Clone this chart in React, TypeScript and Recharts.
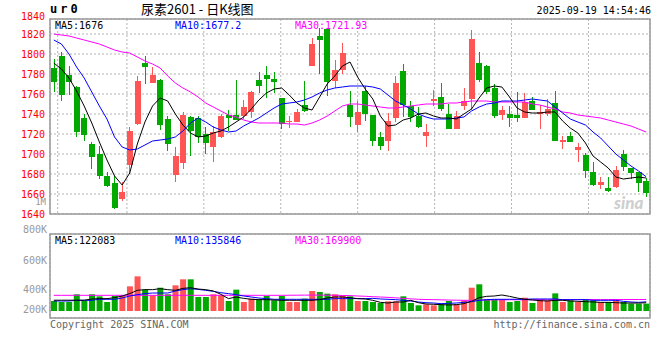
import React from 'react';
import { Bar, CartesianGrid, Cell, ComposedChart, Line, ReferenceArea, XAxis, YAxis } from 'recharts';

// trading days shown
const dates = [
  '06-03', '06-04', '06-05', '06-06', '06-09', '06-10', '06-11', '06-12', '06-13', '06-16',
  '06-17', '06-18', '06-19', '06-20', '06-23', '06-24', '06-25', '06-26', '06-27', '06-30',
  '07-01', '07-02', '07-03', '07-04', '07-07', '07-08', '07-09', '07-10', '07-11', '07-14',
  '07-15', '07-16', '07-17', '07-18', '07-21', '07-22', '07-23', '07-24', '07-25', '07-28',
  '07-29', '07-30', '07-31', '08-01', '08-04', '08-05', '08-06', '08-07', '08-08', '08-11',
  '08-12', '08-13', '08-14', '08-15', '08-18', '08-19', '08-20', '08-21', '08-22', '08-25',
  '08-26', '08-27', '08-28', '08-29', '09-01', '09-02', '09-03', '09-04', '09-05', '09-08',
  '09-09', '09-10', '09-11', '09-12', '09-15', '09-16', '09-17', '09-18', '09-19',
];

const opens = [
  1786, 1798, 1779, 1767, 1736, 1710, 1700, 1678, 1671, 1655,
  1689, 1730, 1791, 1771, 1774, 1735, 1679, 1691, 1737, 1736,
  1720, 1707, 1717, 1739, 1739, 1738, 1742, 1774, 1779, 1775,
  1756, 1732, 1732, 1749, 1788, 1818, 1825, 1773, 1784, 1749,
  1729, 1763, 1739, 1717, 1713, 1736, 1783, 1748, 1738, 1718,
  1753, 1757, 1740, 1725, 1748, 1755, 1791, 1788, 1766, 1739,
  1740, 1739, 1736, 1753, 1740, 1740, 1751, 1712, 1718, 1704,
  1699, 1682, 1669, 1666, 1667, 1700, 1686, 1682, 1673,
];
const highs = [
  1795, 1802, 1788, 1768, 1740, 1712, 1708, 1682, 1678, 1672,
  1727, 1778, 1798, 1787, 1775, 1738, 1707, 1742, 1738, 1738,
  1727, 1728, 1740, 1744, 1774, 1754, 1763, 1782, 1788, 1782,
  1756, 1738, 1745, 1773, 1816, 1826, 1825, 1794, 1811, 1763,
  1753, 1768, 1739, 1722, 1741, 1778, 1790, 1753, 1747, 1730,
  1764, 1771, 1750, 1743, 1766, 1824, 1802, 1789, 1770, 1748,
  1748, 1762, 1761, 1757, 1749, 1755, 1763, 1718, 1722, 1711,
  1701, 1692, 1677, 1677, 1688, 1704, 1686, 1682, 1676,
];
const lows = [
  1762, 1753, 1759, 1717, 1713, 1685, 1675, 1667, 1645, 1653,
  1680, 1729, 1770, 1771, 1724, 1703, 1672, 1685, 1698, 1711,
  1700, 1692, 1716, 1723, 1734, 1735, 1736, 1761, 1756, 1761,
  1725, 1726, 1732, 1742, 1788, 1780, 1758, 1766, 1780, 1727,
  1722, 1733, 1708, 1704, 1703, 1732, 1737, 1732, 1726, 1707,
  1748, 1743, 1725, 1725, 1744, 1744, 1772, 1760, 1736, 1734,
  1727, 1732, 1736, 1744, 1725, 1738, 1713, 1705, 1712, 1692,
  1676, 1668, 1665, 1662, 1666, 1683, 1675, 1662, 1657,
];
const closes = [
  1772, 1759, 1772, 1722, 1719, 1697, 1678, 1668, 1646, 1662,
  1723, 1773, 1787, 1779, 1729, 1710, 1698, 1739, 1723, 1717,
  1711, 1722, 1738, 1736, 1734, 1747, 1762, 1768, 1775, 1772,
  1730, 1733, 1742, 1743, 1810, 1814, 1772, 1784, 1801, 1737,
  1742, 1740, 1713, 1708, 1733, 1771, 1749, 1737, 1727, 1722,
  1755, 1745, 1725, 1738, 1753, 1815, 1774, 1762, 1738, 1744,
  1736, 1736, 1752, 1744, 1742, 1745, 1713, 1714, 1712, 1707,
  1683, 1669, 1672, 1663, 1684, 1687, 1681, 1671, 1661,
];

const ma5 = [
  1791, 1785, 1776, 1763, 1748, 1731, 1712, 1694, 1678, 1669,
  1681, 1710, 1732, 1748, 1756, 1753, 1740, 1729, 1721, 1717,
  1718, 1721, 1723, 1727, 1732, 1737, 1745, 1754, 1761, 1765,
  1766, 1759, 1751, 1746, 1744, 1757, 1770, 1778, 1788, 1792,
  1777, 1765, 1755, 1738, 1728, 1729, 1734, 1736, 1740, 1741,
  1738, 1736, 1736, 1735, 1740, 1745, 1756, 1766, 1768, 1767,
  1757, 1746, 1742, 1741, 1741, 1742, 1742, 1733, 1726, 1721,
  1711, 1698, 1692, 1686, 1677, 1675, 1676, 1677, 1676,
];
const ma10 = [
  1814, 1810, 1800, 1787, 1776, 1762, 1748, 1735, 1717, 1707,
  1704, 1705, 1709, 1713, 1714, 1715, 1717, 1723, 1731, 1736,
  1732, 1727, 1724, 1722, 1723, 1728, 1732, 1736, 1741, 1746,
  1750, 1751, 1752, 1754, 1757, 1761, 1764, 1766, 1767, 1768,
  1768, 1768, 1767, 1765, 1759, 1753, 1749, 1745, 1740, 1737,
  1735, 1735, 1735, 1736, 1737, 1743, 1747, 1750, 1751, 1753,
  1753, 1753, 1754, 1755, 1754, 1753, 1747, 1741, 1735, 1732,
  1729, 1722, 1716, 1708, 1700, 1694, 1688, 1683, 1677.2,
];
const ma30 = [
  1820, 1819, 1818, 1816, 1814, 1812, 1810, 1807, 1804, 1802,
  1801, 1797, 1793, 1790, 1786, 1778, 1771, 1766, 1762, 1757,
  1751, 1747, 1743, 1739, 1737, 1734, 1732, 1731, 1731, 1731,
  1731, 1730, 1730, 1729, 1731, 1734, 1738, 1743, 1748, 1750,
  1750, 1749, 1748, 1747, 1746, 1746, 1747, 1748, 1749, 1750,
  1750, 1750, 1751, 1751, 1752, 1753, 1753, 1753, 1752, 1752,
  1752, 1752, 1752, 1750, 1749, 1747, 1745, 1742, 1741, 1739,
  1738, 1737, 1736, 1734, 1732, 1730, 1728, 1725, 1721.93,
];

// volume, in thousands
const volumes = [
  148, 133, 133, 247, 148, 247, 217, 133, 222, 222,
  365, 513, 316, 232, 345, 247, 380, 469, 469, 207,
  207, 247, 232, 148, 316, 133, 183, 173, 222, 158,
  222, 133, 133, 183, 296, 281, 257, 247, 232, 217,
  148, 148, 133, 118, 143, 143, 217, 118, 84, 99,
  84, 99, 148, 99, 158, 345, 395, 173, 173, 173,
  133, 148, 197, 118, 173, 158, 261, 133, 158, 133,
  173, 158, 133, 133, 158, 133, 109, 109, 109,
];
const volMa5 = [
  160, 160, 160, 160, 160, 178, 183, 183, 197, 222,
  257, 306, 316, 316, 330, 316, 306, 335, 345, 325,
  316, 296, 247, 183, 207, 187, 173, 168, 168, 163,
  158, 158, 158, 158, 158, 168, 192, 207, 207, 197,
  183, 178, 158, 128, 118, 133, 133, 158, 123, 104,
  99, 94, 89, 94, 109, 143, 197, 217, 222, 237,
  217, 192, 173, 163, 153, 148, 158, 158, 148, 143,
  138, 133, 128, 128, 123, 118, 118, 118, 122.083,
];
const volMa10 = [
  148, 148, 148, 158, 158, 158, 173, 173, 173, 192,
  222, 242, 257, 266, 266, 266, 296, 316, 330, 320,
  306, 291, 271, 257, 242, 222, 207, 192, 183, 173,
  173, 173, 173, 173, 173, 173, 173, 183, 183, 183,
  183, 183, 187, 178, 173, 168, 158, 148, 133, 123,
  118, 109, 114, 118, 128, 138, 158, 168, 173, 173,
  173, 173, 173, 178, 178, 178, 178, 168, 168, 168,
  168, 158, 158, 158, 158, 143, 133, 128, 135.846,
];
const volMa30 = [
  232, 232, 232, 232, 232, 232, 232, 232, 232, 232,
  232, 232, 232, 232, 232, 232, 232, 232, 232, 232,
  232, 232, 232, 232, 232, 232, 232, 232, 232, 232,
  232, 233, 234, 235, 235, 235, 234, 233, 230, 228,
  222, 218, 212, 207, 202, 195, 187, 180, 173, 170,
  168, 165, 162, 160, 158, 158, 160, 163, 165, 165,
  166, 166, 166, 167, 167, 167, 168, 168, 168, 168,
  169, 169, 169, 169, 170, 170, 170, 170, 169.9,
];

const priceTicks = [1640, 1660, 1680, 1700, 1720, 1740, 1760, 1780, 1800, 1820];
const dateTicks = ['06-03', '06-16', '06-30', '07-14', '07-28', '08-11', '08-25', '09-08'];
const volLabels = ['800K', '600K', '400K', '200K'];

const MONO = '"DejaVu Sans Mono", monospace';
const UP = '#ff5555';
const DOWN = '#00a800';
const FRAME = '#999999';
const GRID = '#b4b4b4';
const BLUE_TXT = '#1a80d4';

const n = dates.length;
const tickPos = dateTicks.map((t) => dates.indexOf(t) + 1);

const rows = dates.map((d, i) => ({
  d,
  open: opens[i],
  high: highs[i],
  low: lows[i],
  close: closes[i],
  range: [lows[i], highs[i]],
  ma5: ma5[i],
  ma10: ma10[i],
  ma30: ma30[i],
  vol: volumes[i] * 1000,
  vma5: volMa5[i] * 1000,
  vma10: volMa10[i] * 1000,
  vma30: volMa30[i] * 1000,
}));

const PRICE_DOMAIN = [1640, 1835];
// 0 sits a few px above the bottom of the volume box
const VOL_DOMAIN = [-103600, 1139600];
const volGrid = [1, 2, 3].map((k) => VOL_DOMAIN[0] + ((VOL_DOMAIN[1] - VOL_DOMAIN[0]) * k) / 4);

function Candle(props: any) {
  const { x, y, width, height, payload } = props;
  if (!payload || height == null) return null;
  const { open, close, high, low } = payload;
  const k = height / (high - low);
  const py = (v: number) => y + (high - v) * k;
  const color = close >= open ? UP : DOWN;
  const cx = Math.floor(x + width / 2) + 0.5;
  const top = Math.round(py(Math.max(open, close)));
  const bot = Math.round(py(Math.min(open, close)));
  return (
    <g>
      <line x1={cx} x2={cx} y1={y} y2={y + height} stroke={color} strokeWidth={1} />
      <rect x={Math.round(x)} y={top} width={Math.round(width)} height={Math.max(1, bot - top)} fill={color} />
    </g>
  );
}

// date label drawn at the axis tick position, baseline set directly
function DateTick(props: any) {
  const { x, y, payload } = props;
  return (
    <text x={x} y={y + 8} textAnchor="middle" fill={BLUE_TXT} fontSize={10} fontFamily={MONO}>
      {dates[payload.value - 1]}
    </text>
  );
}

const txt = (extra: React.CSSProperties): React.CSSProperties => ({
  position: 'absolute',
  fontFamily: MONO,
  fontSize: 10,
  lineHeight: '10px',
  whiteSpace: 'nowrap',
  ...extra,
});

export default function App() {
  return (
    <div style={{ position: 'relative', width: 660, height: 360, background: '#fff', overflow: 'hidden' }}>
      <style>{'body{margin:0}'}</style>

      <div style={{ position: 'absolute', left: 0, top: 0 }}>
        <ComposedChart width={660} height={230} data={rows} margin={{ top: 19, right: 10, bottom: 0, left: 0 }}>
          <XAxis dataKey="d" hide />
          <XAxis
            xAxisId="t"
            type="number"
            domain={[0, n]}
            ticks={tickPos}
            interval={0}
            axisLine={false}
            tickLine={false}
            tickSize={0}
            tickMargin={4}
            height={16}
            tick={<DateTick />}
          />
          <YAxis
            domain={PRICE_DOMAIN}
            ticks={priceTicks}
            interval={0}
            allowDataOverflow
            width={50}
            axisLine={false}
            tickLine={false}
            tickSize={0}
            tickMargin={5}
            tick={{ fill: '#ff0000', fontSize: 10, fontFamily: MONO }}
          />
          <CartesianGrid xAxisId="t" stroke={GRID} strokeDasharray="2 2" />
          <ReferenceArea y1={PRICE_DOMAIN[0]} y2={PRICE_DOMAIN[1]} fill="none" stroke={FRAME} strokeWidth={1.5} ifOverflow="visible" />
          <Bar dataKey="range" barSize={6} shape={<Candle />} isAnimationActive={false} />
          <Line dataKey="ma30" stroke="#ff00ff" strokeWidth={1} dot={false} activeDot={false} isAnimationActive={false} />
          <Line dataKey="ma10" stroke="#0000ff" strokeWidth={1} dot={false} activeDot={false} isAnimationActive={false} />
          <Line dataKey="ma5" stroke="#000000" strokeWidth={1} dot={false} activeDot={false} isAnimationActive={false} />
        </ComposedChart>
      </div>

      <div style={{ position: 'absolute', left: 0, top: 230 }}>
        <ComposedChart width={660} height={90} data={rows} margin={{ top: 4, right: 10, bottom: 2, left: 50 }}>
          <XAxis dataKey="d" hide />
          <XAxis xAxisId="t" type="number" domain={[0, n]} ticks={tickPos} interval={0} height={0} tick={false} axisLine={false} tickLine={false} />
          <YAxis domain={VOL_DOMAIN} ticks={volGrid} interval={0} allowDataOverflow width={0} tick={false} axisLine={false} tickLine={false} />
          <CartesianGrid xAxisId="t" stroke={GRID} strokeDasharray="2 2" />
          <ReferenceArea y1={VOL_DOMAIN[0]} y2={VOL_DOMAIN[1]} fill="none" stroke={FRAME} strokeWidth={1.5} ifOverflow="visible" />
          <Bar dataKey="vol" barSize={6} isAnimationActive={false}>
            {rows.map((r, i) => (
              <Cell key={i} fill={r.close >= r.open ? UP : DOWN} />
            ))}
          </Bar>
          <Line dataKey="vma30" stroke="#ff00ff" strokeWidth={1} dot={false} activeDot={false} isAnimationActive={false} />
          <Line dataKey="vma10" stroke="#0000ff" strokeWidth={1} dot={false} activeDot={false} isAnimationActive={false} />
          <Line dataKey="vma5" stroke="#000000" strokeWidth={1} dot={false} activeDot={false} isAnimationActive={false} />
        </ComposedChart>
      </div>

      {/* header */}
      <div style={txt({ left: 50, top: 3, fontSize: 12, lineHeight: '12px', fontWeight: 'bold', letterSpacing: 3 })}>ur0</div>
      <div style={{ position: 'absolute', left: 141, top: 1, fontFamily: '"Noto Sans CJK SC", sans-serif', fontSize: 13, lineHeight: '16px', whiteSpace: 'nowrap' }}>
        尿素2601 - 日K线图
      </div>
      <div style={txt({ right: 9, top: 6, fontSize: 10 })}>2025-09-19 14:54:46</div>
      <div style={txt({ left: 0, width: 45, textAlign: 'right', top: 12, color: '#ff0000' })}>1840</div>
      <div style={txt({ left: 0, width: 46, textAlign: 'right', top: 198, fontSize: 9, lineHeight: '9px', color: '#999' })}>1M</div>

      {/* price legend */}
      <div style={txt({ left: 55, top: 21, color: '#000' })}>MA5:{ma5[n - 1]}</div>
      <div style={txt({ left: 175, top: 21, color: '#0000ff' })}>MA10:{ma10[n - 1]}</div>
      <div style={txt({ left: 295, top: 21, color: '#ff00ff' })}>MA30:{ma30[n - 1]}</div>

      {/* volume legend and labels */}
      <div style={txt({ left: 55, top: 236, color: '#000' })}>MA5:{Math.round(volMa5[n - 1] * 1000)}</div>
      <div style={txt({ left: 175, top: 236, color: '#0000ff' })}>MA10:{Math.round(volMa10[n - 1] * 1000)}</div>
      <div style={txt({ left: 295, top: 236, color: '#ff00ff' })}>MA30:{Math.round(volMa30[n - 1] * 1000)}</div>
      {volLabels.map((l, i) => (
        <div key={l} style={txt({ left: 0, width: 47, textAlign: 'right', top: [225, 256, 285, 305][i], color: '#999' })}>
          {l}
        </div>
      ))}

      {/* footer */}
      <div style={txt({ left: 50, top: 320, color: '#666' })}>Copyright 2025 SINA.COM</div>
      <div style={txt({ right: 10, top: 320, color: '#666' })}>http://finance.sina.com.cn</div>
      <div style={{ position: 'absolute', left: 614, top: 192, fontFamily: 'Lato, sans-serif', fontStyle: 'italic', fontWeight: 900, fontSize: 17, color: 'rgba(190,190,190,0.75)' }}>
        sina
      </div>
    </div>
  );
}
